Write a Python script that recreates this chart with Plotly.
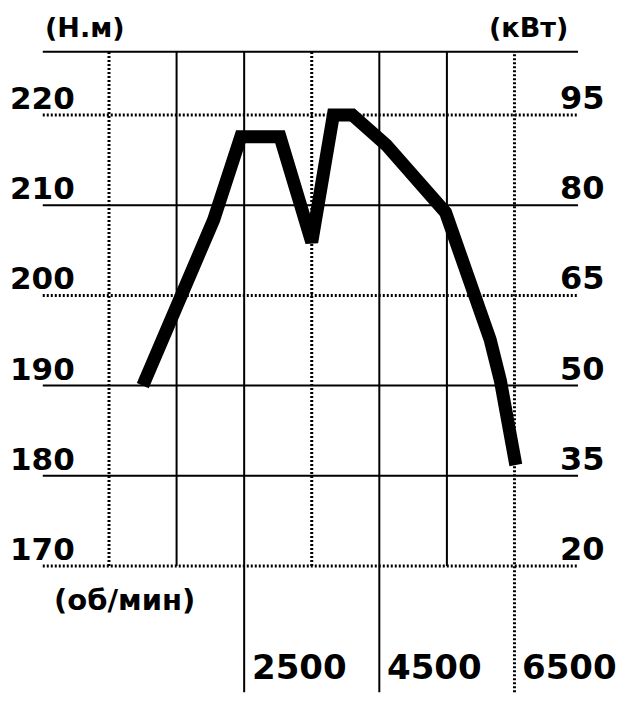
import plotly.graph_objects as go

# ---- data ----
rpm = [1000, 2050, 2450, 3030, 3500, 3820, 4100, 4600, 5480, 5945, 6140, 6290, 6520]
torque = [190, 208.4, 217.6, 217.6, 205.9, 220, 220, 216.7, 209.2, 199.5, 195.1, 190.6, 181.2]

torque_ticks = [170, 180, 190, 200, 210, 220]
power_ticks = [20, 35, 50, 65, 80, 95]
rpm_grid = [500, 1500, 2500, 3500, 4500, 5500, 6500]
rpm_labels = [2500, 4500, 6500]

torque_unit = "(Н.м)"
power_unit = "(кВт)"
rpm_unit = "(об/мин)"

# ---- styling / layout constants ----
solid_rpm = {1500, 2500, 4500, 5500}
solid_torque = {180, 190, 210}
frame_top = 227
grid_left, grid_right = -480, 7440
ext_bottom = 156
FONT = "DejaVu Sans"

fig = go.Figure()
fig.add_trace(go.Scatter(
    x=rpm, y=torque, mode="lines",
    line=dict(color="black", width=13),
    hoverinfo="skip", showlegend=False,
))

shapes = []
for t in torque_ticks:
    solid = t in solid_torque
    shapes.append(dict(type="line", xref="x", yref="y", layer="below",
                       x0=grid_left, x1=grid_right, y0=t, y1=t,
                       line=dict(color="black", width=2 if solid else 3,
                                 dash="solid" if solid else "2px,2px")))
shapes.append(dict(type="line", xref="x", yref="y", layer="below",
                   x0=grid_left, x1=grid_right, y0=frame_top, y1=frame_top,
                   line=dict(color="black", width=2)))
for r in rpm_grid:
    solid = r in solid_rpm
    bottom = ext_bottom if r in rpm_labels else torque_ticks[0]
    shapes.append(dict(type="line", xref="x", yref="y", layer="below",
                       x0=r, x1=r, y0=bottom, y1=frame_top,
                       line=dict(color="black", width=2 if solid else 3,
                                 dash="solid" if solid else "2px,2px")))

def bold(size):
    return dict(family=FONT, size=size, color="black", weight="bold")

annotations = []
for t in torque_ticks:
    annotations.append(dict(x=30, y=t, xref="x", yref="y", text=str(t),
                            showarrow=False, xanchor="right", yanchor="middle",
                            yshift=17, font=bold(31)))
for t, p in zip(torque_ticks, power_ticks):
    annotations.append(dict(x=7150, y=t, xref="x", yref="y", text=str(p),
                            showarrow=False, xanchor="left", yanchor="middle",
                            yshift=17, font=bold(32)))
for r in rpm_labels:
    annotations.append(dict(x=r, y=158.8, xref="x", yref="y", text=str(r),
                            showarrow=False, xanchor="left", yanchor="middle",
                            xshift=6, font=bold(34)))
annotations.append(dict(x=-470, y=229.7, xref="x", yref="y", text=torque_unit,
                        showarrow=False, xanchor="left", yanchor="middle", font=bold(27)))
annotations.append(dict(x=7320, y=229.7, xref="x", yref="y", text=power_unit,
                        showarrow=False, xanchor="right", yanchor="middle", font=bold(27)))
annotations.append(dict(x=-350, y=166.2, xref="x", yref="y", text=rpm_unit,
                        showarrow=False, xanchor="left", yanchor="middle", font=bold(29)))

fig.update_layout(
    width=640, height=702,
    margin=dict(l=0, r=0, t=0, b=0),
    paper_bgcolor="white", plot_bgcolor="white",
    xaxis=dict(range=[-994.5, 8475.7], visible=False, fixedrange=True),
    yaxis=dict(range=[154.04, 231.86], visible=False, fixedrange=True),
    shapes=shapes, annotations=annotations,
)

fig.write_html("out.html")
